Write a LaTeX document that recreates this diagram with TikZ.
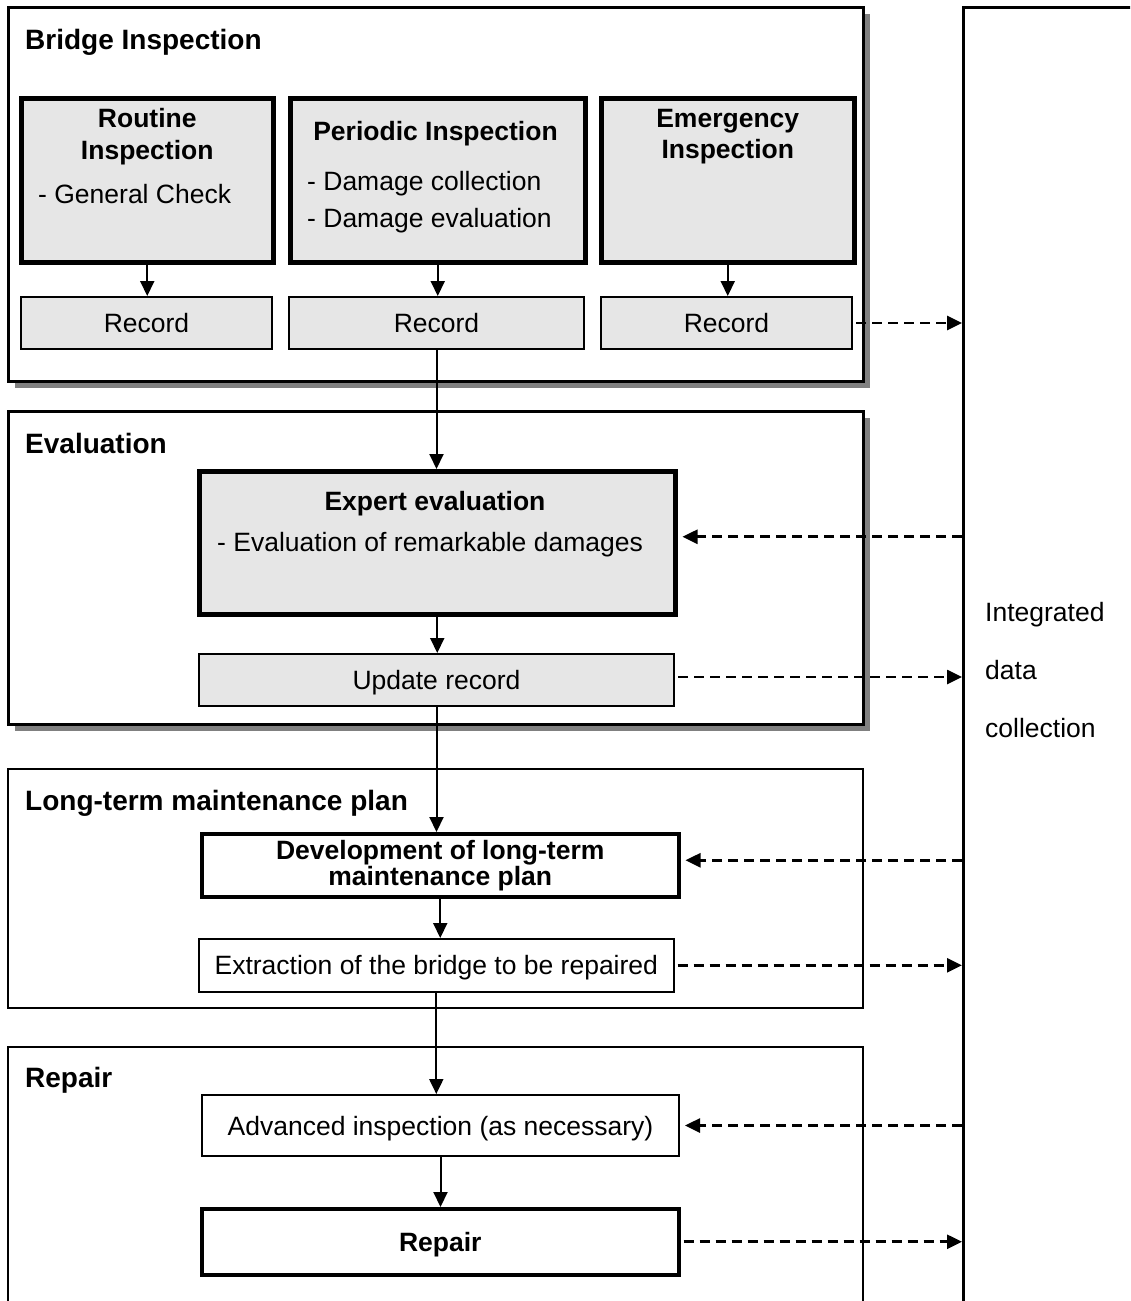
\documentclass[tikz,border=0pt]{standalone}
\usepackage{fontspec}
\setmainfont{Liberation Sans}
\usetikzlibrary{arrows.meta,shadows}
\definecolor{boxgray}{HTML}{E6E6E6}
\definecolor{shadegray}{HTML}{808080}
\newcommand{\bodyfs}{\fontsize{26.5pt}{32pt}\selectfont}
\newcommand{\titlefs}{\fontsize{28pt}{34pt}\selectfont\bfseries}

\begin{document}
\begin{tikzpicture}[x=1pt, y=-1pt, >={Triangle[length=15pt,width=14pt]},
  frame/.style={draw, line width=3pt, fill=white, anchor=north west, inner sep=0pt, drop shadow={shadow xshift=6pt, shadow yshift=-6pt, fill=shadegray, opacity=1}},
  plainframe/.style={draw, line width=2pt, fill=white, anchor=north west, inner sep=0pt},
  heavy/.style={draw, line width=4.5pt, fill=boxgray, anchor=north west, inner sep=0pt},
  rec/.style={draw, line width=2pt, fill=boxgray, anchor=north west, inner sep=0pt, font=\bodyfs, text depth=0pt},
  whitebox/.style={draw, line width=2pt, fill=white, anchor=north west, inner sep=0pt, font=\bodyfs, text depth=0pt},
  boldbox/.style={draw, line width=3.5pt, fill=white, anchor=north west, inner sep=0pt, font=\bodyfs\bfseries, align=center},
  ttl/.style={anchor=base west, inner sep=0pt, font=\titlefs},
  txt/.style={inner sep=0pt, font=\bodyfs},
  arr/.style={->, line width=2pt},
  darr/.style={->, line width=2.6pt, dash pattern=on 10pt off 6pt}]
\useasboundingbox (0,0) rectangle (1130,1301);
\clip (0,0) rectangle (1130,1301);
% section frames
\node[frame, minimum width=855pt, minimum height=374pt] (BF) at (7,6) {};
\node[frame, minimum width=855pt, minimum height=313pt] (EF) at (7,410) {};
\node[plainframe, minimum width=855pt, minimum height=239pt] (LF) at (7,768) {};
\node[plainframe, minimum width=855pt, minimum height=360pt] (PF) at (7,1046) {};
\node[draw, line width=2.5pt, anchor=north west, inner sep=0pt, minimum width=400pt, minimum height=1400pt] (I) at (962,6) {};
\node[ttl] (BT) at (25,49) {Bridge Inspection};
\node[ttl] (ET) at (25,453) {Evaluation};
\node[ttl] (LT) at (25,810) {Long-term maintenance plan};
\node[ttl] (KT) at (25,1087) {Repair};
\node[txt, anchor=west, align=left] (IT) at (985,670) {Integrated\\[26pt]data\\[26pt]collection};
% bridge inspection
\node[heavy, minimum width=252pt, minimum height=164pt] (R) at (19,96) {};
\node[heavy, minimum width=295pt, minimum height=164pt] (P) at (288,96) {};
\node[heavy, minimum width=253pt, minimum height=164pt] (M) at (599,96) {};
\node[txt, font=\bodyfs\bfseries, anchor=north, align=center] (RT) at ([yshift=-12pt]R.north) {Routine\\Inspection};
\node[txt, anchor=base west] (RL) at (38,203) {- General Check};
\node[txt, font=\bodyfs\bfseries, anchor=base] (PT) at (435.5,140) {Periodic Inspection};
\node[txt, anchor=north west, align=left] (PL) at (307,171) {- Damage collection\\[5pt]- Damage evaluation};
\node[txt, font=\bodyfs\bfseries, anchor=north, align=center] (MT) at ([yshift=-13pt]M.north) {Emergency\\[-1pt]Inspection};
\node[rec, minimum width=251pt, minimum height=52pt] (R1) at (20,296) {Record};
\node[rec, minimum width=295pt, minimum height=52pt] (R2) at (288,296) {Record};
\node[rec, minimum width=251pt, minimum height=52pt] (R3) at (600,296) {Record};
% evaluation
\node[heavy, minimum width=476pt, minimum height=143pt] (X) at (197,469) {};
\node[txt, font=\bodyfs\bfseries, anchor=base] (XT) at (435,510) {Expert evaluation};
\node[txt, anchor=base west] (XL) at (217,551) {- Evaluation of remarkable damages};
\node[rec, minimum width=475pt, minimum height=52pt] (U) at (198,653) {Update record};
% long-term plan
\node[boldbox, font=\fontsize{26.5pt}{26pt}\selectfont\bfseries, minimum width=477pt, minimum height=63pt] (D) at (200,832) {Development of long-term\\maintenance plan};
\node[whitebox, line width=1.6pt, minimum width=475pt, minimum height=53pt] (Z) at (198,938) {Extraction of the bridge to be repaired};
% repair
\node[whitebox, minimum width=477pt, minimum height=61pt] (A) at (201,1094) {Advanced inspection (as necessary)};
\node[boldbox, text depth=0pt, minimum width=477pt, minimum height=66pt] (K) at (200,1207) {Repair};
% flow
\draw[arr] (R.south) -- (R.south |- R1.north);
\draw[arr] (P.south) -- (P.south |- R2.north);
\draw[arr] (M.south) -- (M.south |- R3.north);
\draw[arr] (R2.south) -- (R2.south |- X.north);
\draw[arr] (X.south) -- (X.south |- U.north);
\draw[arr] (U.south) -- (U.south |- D.north);
\draw[arr] (D.south) -- (D.south |- Z.north);
\draw[arr] (Z.south) -- (Z.south |- A.north);
\draw[arr] (A.south) -- (A.south |- K.north);
% data exchange
\draw[darr, shorten <=3pt] (R3.east) -- (I.west |- R3.east);
\draw[darr, shorten >=5pt] ([yshift=6pt]I.west |- X.east) -- ([yshift=6pt]X.east);
\draw[darr, shorten <=3pt] ([yshift=3pt]U.east) -- ([yshift=3pt]I.west |- U.east);
\draw[darr, shorten >=5pt] ([yshift=5pt]I.west |- D.east) -- ([yshift=5pt]D.east);
\draw[darr, shorten <=3pt] (Z.east) -- (I.west |- Z.east);
\draw[darr, shorten >=5pt] (I.west |- A.east) -- (A.east);
\draw[darr, shorten <=3pt] (K.east) -- (I.west |- K.east);
\end{tikzpicture}
\end{document}
